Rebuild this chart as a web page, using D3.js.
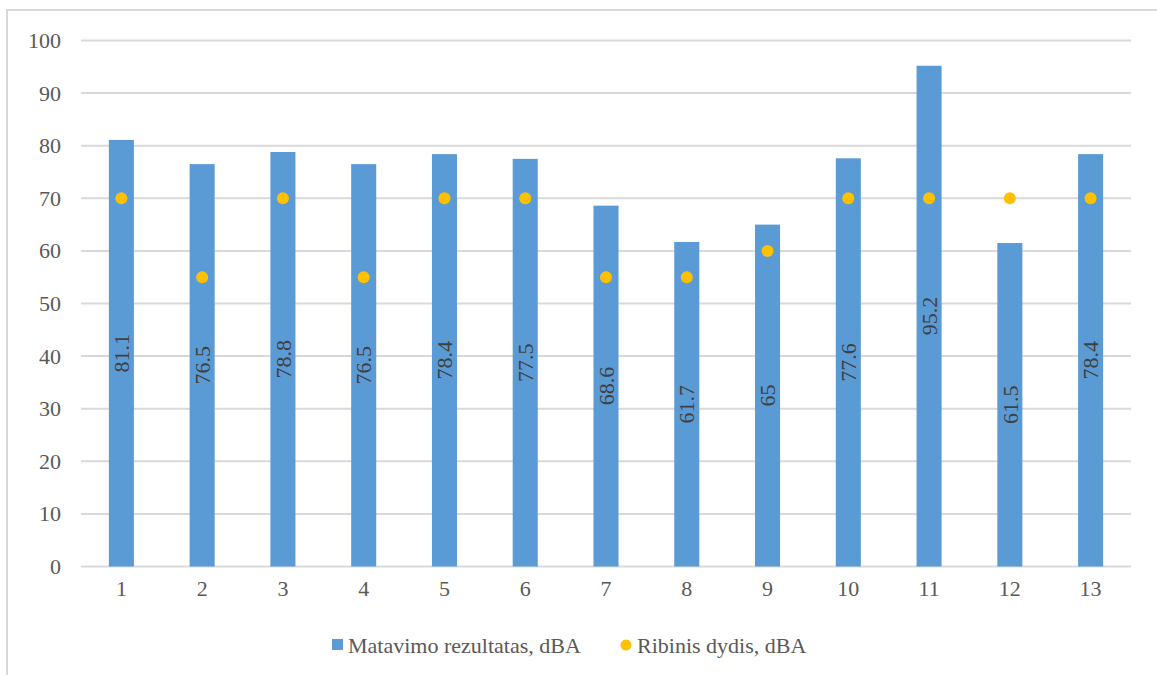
<!DOCTYPE html>
<html><head><meta charset="utf-8">
<script src="https://cdn.jsdelivr.net/npm/d3@7"></script>
<style>body{margin:0;background:#fff;} svg{display:block;} svg text{font-family:"Liberation Serif","Times New Roman",Tinos,serif;}</style>
</head><body>
<svg id="c" width="1157" height="675"></svg>
<script>
const categories = ["1","2","3","4","5","6","7","8","9","10","11","12","13"];
const measured = [81.1, 76.5, 78.8, 76.5, 78.4, 77.5, 68.6, 61.7, 65, 77.6, 95.2, 61.5, 78.4];
const limits = [70, 55, 70, 55, 70, 70, 55, 55, 60, 70, 70, 70, 70];
const yTicks = [0,10,20,30,40,50,60,70,80,90,100];
const seriesNames = ["Matavimo rezultatas, dBA", "Ribinis dydis, dBA"];

const svg = d3.select("#c");
const fs = 22;
// outer border
svg.append("rect").attr("x",7).attr("y",10).attr("width",1170).attr("height",700)
  .attr("fill","none").attr("stroke","#D9D9D9").attr("stroke-width",2);

const x = d3.scaleBand().domain(categories).range([81,1131]).padding(0);
const y = d3.scaleLinear().domain([0,100]).range([566.5,40.5]);
const bw = x.bandwidth()*0.31;

// grid
svg.append("g").selectAll("line").data(yTicks).join("line")
  .attr("x1",81).attr("x2",1131).attr("y1",d=>y(d)).attr("y2",d=>y(d))
  .attr("stroke","#D9D9D9").attr("stroke-width",2);

// y labels
const yAxis = d3.axisLeft(y).tickValues(yTicks).tickSize(0).tickPadding(0);
const gy = svg.append("g").attr("transform","translate(61,0)").call(yAxis);
gy.select(".domain").remove();
gy.attr("font-family",null);
gy.selectAll("text").attr("font-size",fs).attr("fill","#595959").attr("dy","0.32em");

// x labels
const xAxis = d3.axisBottom(x).tickSize(0).tickPadding(0);
const gx = svg.append("g").attr("transform","translate(0,580)").call(xAxis);
gx.select(".domain").remove();
gx.attr("font-family",null);
gx.selectAll("text").attr("font-size",fs).attr("fill","#595959").attr("dy","0.71em");

// bars
svg.append("g").selectAll("rect").data(measured).join("rect")
  .attr("x",(d,i)=>x(categories[i])+x.bandwidth()/2-bw/2)
  .attr("width",bw)
  .attr("y",d=>y(d)).attr("height",d=>y(0)-y(d))
  .attr("fill","#5B9BD5");

// labels
svg.append("g").selectAll("text").data(measured).join("text")
  .attr("transform",(d,i)=>`translate(${x(categories[i])+x.bandwidth()/2},${y(d/2)}) rotate(-90)`)
  .attr("text-anchor","middle").attr("dy","0.35em")
  .attr("font-size",fs).attr("fill","#404040")
  .text(d=>String(d));

// dots
svg.append("g").selectAll("circle").data(limits).join("circle")
  .attr("cx",(d,i)=>x(categories[i])+x.bandwidth()/2)
  .attr("cy",d=>y(d)).attr("r",6).attr("fill","#FFC000");

// legend
const lg = svg.append("g");
lg.append("rect").attr("x",332).attr("y",639).attr("width",11).attr("height",11).attr("fill","#5B9BD5");
lg.append("text").attr("x",348).attr("y",653).attr("font-size",fs).attr("fill","#595959").text(seriesNames[0]);
lg.append("circle").attr("cx",626).attr("cy",645).attr("r",5.5).attr("fill","#FFC000");
lg.append("text").attr("x",637).attr("y",653).attr("font-size",fs).attr("fill","#595959").text(seriesNames[1]);
</script>
</body></html>
